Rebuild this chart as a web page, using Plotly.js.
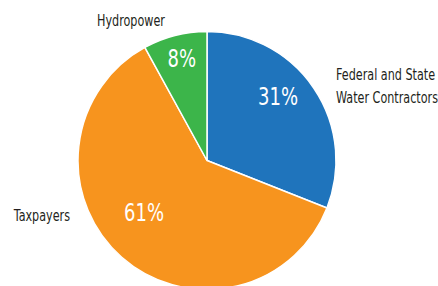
<!DOCTYPE html>
<html><head><meta charset="utf-8">
<script src="https://cdn.plot.ly/plotly-3.0.1.min.js"></script>
<style>html,body{margin:0;padding:0;overflow:hidden;background:#fff}#chart{width:438px;height:290px}
text.annotation-text{transform-box:fill-box}
</style>
</head><body><div id="chart"></div>
<script>
const categories = ["Federal and State Water Contractors", "Taxpayers", "Hydropower"];
const labelLines = [["Federal and State", "Water Contractors"], ["Taxpayers"], ["Hydropower"]];
const shares = [31, 61, 8];
const colors = ["#1f74bc", "#f7941e", "#3cb54a"];
const FONT = "DejaVu Sans Condensed, DejaVu Sans, sans-serif";

const W = 438, H = 290, cx = 207, cy = 160.5, R = 129;
const trace = {
  type: "pie",
  values: shares,
  labels: categories,
  sort: false,
  direction: "clockwise",
  rotation: 0,
  marker: {colors: colors, line: {color: "#ffffff", width: 1.5}},
  textinfo: "none",
  hoverinfo: "none",
  showlegend: false,
  domain: {x: [(cx - R) / W, (cx + R) / W], y: [(H - cy - R) / H, (H - cy + R) / H]}
};
const annFont = {family: FONT, size: 15, color: "#231f20"};
const pctFont = {family: FONT, size: 25, color: "#ffffff"};
const labelPos = [[[334, 74.5], [334, 98.5]], [[11, 215.5]], [[95, 21.5]]];
const pctPos = [[278, 96], [144, 212.5], [181.5, 58.5]];
const P = (x, y) => ({x: x / W, y: 1 - y / H, xref: "paper", yref: "paper", showarrow: false});
const annotations = [];
labelLines.forEach((lines, i) => lines.forEach((t, j) => {
  annotations.push(Object.assign(P(labelPos[i][j][0], labelPos[i][j][1]), {text: t, xanchor: "left", yanchor: "middle", font: annFont}));
}));
shares.forEach((v, i) => {
  annotations.push(Object.assign(P(pctPos[i][0], pctPos[i][1]), {text: v + "%", xanchor: "center", yanchor: "middle", font: pctFont}));
});
const layout = {
  width: W, height: H,
  margin: {l: 0, r: 0, t: 0, b: 0},
  paper_bgcolor: "#ffffff",
  showlegend: false,
  annotations: annotations
};
Plotly.newPlot("chart", [trace], layout, {staticPlot: true, displayModeBar: false}).then(gd => {
  // mimic a condensed typeface by narrowing glyphs horizontally
  gd.querySelectorAll("text.annotation-text").forEach(t => {
    const isPct = /%$/.test(t.textContent);
    t.style.transformBox = "fill-box";
    t.style.transformOrigin = isPct ? "center center" : "left center";
    t.style.transform = isPct ? "scaleX(0.8)" : "scaleX(0.83)";
  });
});
</script>
</body></html>
